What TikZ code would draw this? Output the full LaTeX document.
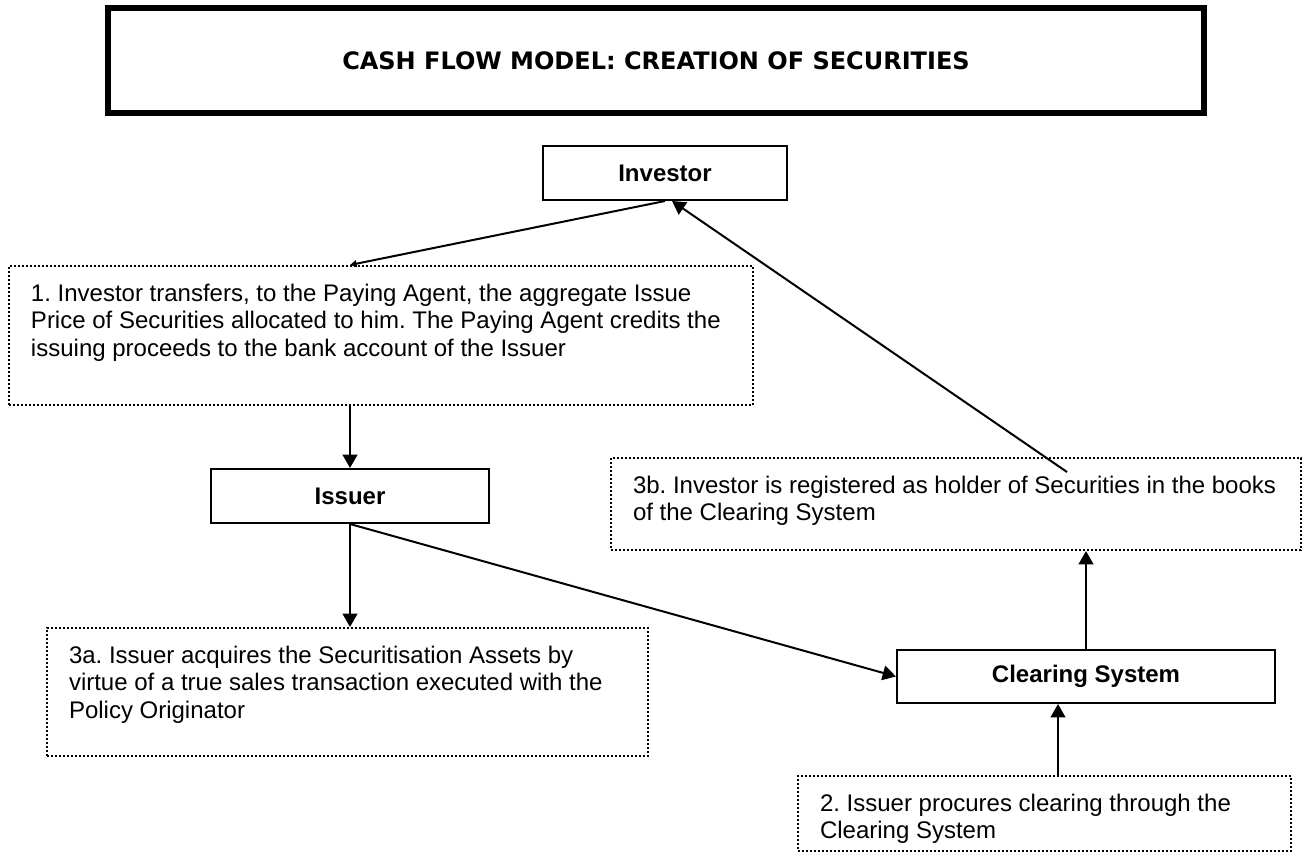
\documentclass[tikz,border=0pt]{standalone}
\usepackage{fontspec}
\setmainfont{Liberation Sans}
\newfontfamily\titlefont{DejaVu Sans}
\usepackage{tikz}
\usetikzlibrary{arrows.meta,positioning,calc}

\frenchspacing
\newcommand{\bodysize}{\fontsize{18pt}{20.7pt}\selectfont}
\newcommand{\notebody}[3]{\parbox[c][#2][t]{#1}{\frenchspacing\raggedright\rule{0pt}{26.25pt}#3}}

\tikzset{
  >={Triangle[length=10pt,width=11pt]},
  titlebox/.style={draw,line width=4.5pt,minimum width=822pt,minimum height=78.75pt,inner sep=0pt,font={\titlefont\bodysize\bfseries}},
  partybox/.style={draw,line width=1.5pt,inner sep=0pt,font={\bodysize\bfseries}},
  notebox/.style={draw,line width=1.5pt,dash pattern=on 1.5pt off 1.5pt,inner xsep=16.5pt,inner ysep=0pt,anchor=north west,font=\bodysize},
  flow/.style={line width=1.5pt}
}

\begin{document}
\begin{tikzpicture}[x=0.75pt,y=-0.75pt]
        \useasboundingbox (0,0) rectangle (1302,852);
        \node[titlebox] (title) at (656,60.5) {CASH FLOW MODEL: CREATION OF SECURITIES};
        \node[partybox,minimum width=183pt,minimum height=40.5pt] (investor) at (665,173) {Investor};
        \node[notebox] (transfer) at (8,265) {\notebody{525pt}{104.25pt}{1. Investor transfers, to the Paying Agent, the aggregate Issue\\
          Price of Securities allocated to him. The Paying Agent credits the\\
          issuing proceeds to the bank account of the Issuer}};
        \node[partybox,minimum width=208.5pt,minimum height=40.5pt] (issuer) at (350,496) {Issuer};
        \node[notebox] (registered) at (610,457) {\notebody{484.5pt}{69pt}{3b. Investor is registered as holder of Securities in the books\\
          of the Clearing System}};
        \node[notebox] (acquire) at (46,627) {\notebody{417.75pt}{96pt}{3a. Issuer acquires the Securitisation Assets by\\
          virtue of a true sales transaction executed with the\\
          Policy Originator}};
        \node[partybox,minimum width=283.5pt,minimum height=39.75pt] (clearing) at (1086,676.5) {Clearing System};
        \node[notebox] (procure) at (797,775) {\notebody{336.75pt}{56.25pt}{2. Issuer procures clearing through the\\
          Clearing System}};
        \coordinate (regstart) at (1067,472);
        \coordinate (procend) at ($(clearing.south)+(-28,0)$);
        \draw[flow,-{Triangle[length=5pt,width=5pt]}] (investor.south) -- (issuer.north |- transfer.north);
        \draw[flow,->] (issuer.north |- transfer.south) -- (issuer.north);
        \draw[flow,->] (issuer.south) -- (issuer.south |- acquire.north);
        \draw[flow,->] (issuer.south) -- (clearing.west);
        \draw[flow,->] (procend |- procure.north) -- (procend);
        \draw[flow,->] (clearing.north) -- (clearing.north |- registered.south);
        \draw[flow,->] (regstart) -- ($(investor.south)+(7,0)$);
\end{tikzpicture}
\end{document}
